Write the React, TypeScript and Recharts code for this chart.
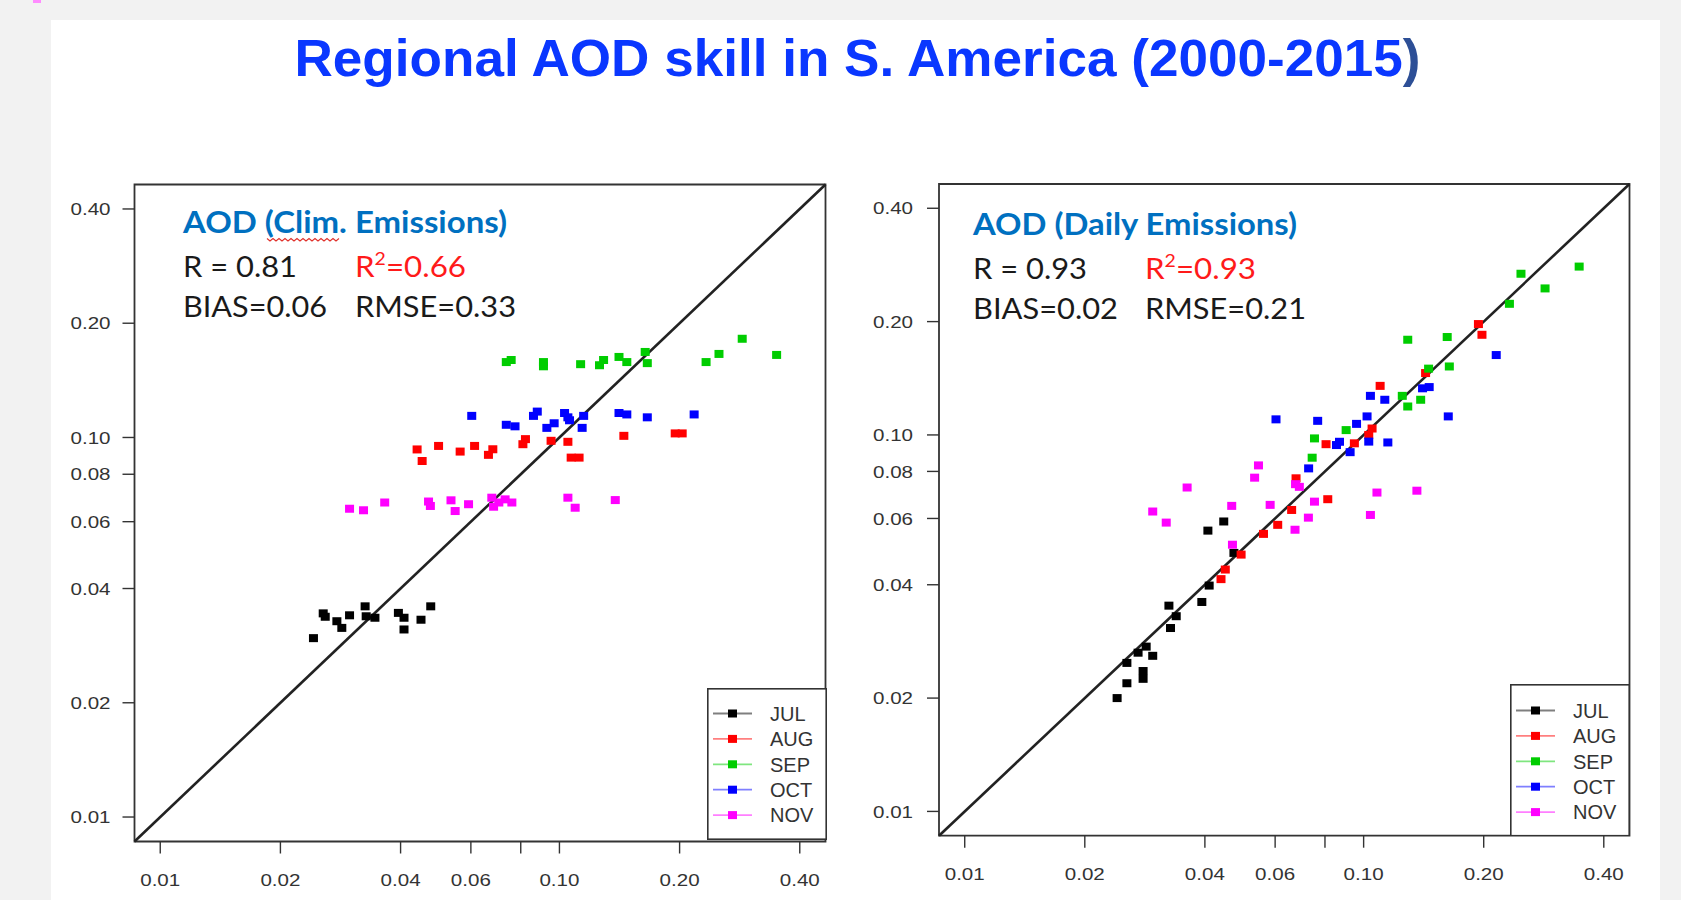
import React from 'react';
import {
  ScatterChart,
  Scatter,
  XAxis,
  YAxis,
  ReferenceLine,
  ReferenceArea,
  Legend,
} from 'recharts';

// month groups and colours (R default palette)
const MONTHS = ['JUL', 'AUG', 'SEP', 'OCT', 'NOV'];
const MONTH_COLORS = ['#000000', '#ff0000', '#00cd00', '#0000ff', '#ff00ff'];

// log axes, same on x and y
const AXIS_TICKS = [0.01, 0.02, 0.04, 0.06, 0.08, 0.1, 0.2, 0.4];
const AXIS_DOMAIN: [number, number] = [0.00862, 0.464];

// panel 1: climatological emissions, [x, y] pairs
const climJul = [
  [0.0242, 0.0296], [0.0256, 0.0344], [0.0259, 0.0337], [0.0277, 0.0328], [0.0285, 0.0315],
  [0.0298, 0.034], [0.0326, 0.0359], [0.0328, 0.0338], [0.0345, 0.0335], [0.0395, 0.0345],
  [0.0408, 0.0335], [0.0408, 0.0312], [0.045, 0.0331], [0.0476, 0.0359],
];
const climAug = [
  [0.044, 0.093], [0.0453, 0.0867], [0.0498, 0.095], [0.0564, 0.0918], [0.0613, 0.095],
  [0.0664, 0.09], [0.0681, 0.0931], [0.081, 0.096], [0.0822, 0.099], [0.0953, 0.098],
  [0.105, 0.0974], [0.107, 0.0885], [0.112, 0.0885], [0.145, 0.101], [0.195, 0.1025], [0.203, 0.1025],
];
const climSep = [
  [0.0736, 0.158], [0.0757, 0.16], [0.0912, 0.158], [0.0912, 0.154], [0.113, 0.156],
  [0.126, 0.155], [0.129, 0.16], [0.141, 0.163], [0.1475, 0.158], [0.164, 0.168],
  [0.166, 0.157], [0.233, 0.158], [0.251, 0.166], [0.287, 0.182], [0.35, 0.165],
];
const climOct = [
  [0.0603, 0.114], [0.0736, 0.108], [0.0774, 0.107], [0.0861, 0.114], [0.088, 0.117],
  [0.093, 0.106], [0.097, 0.109], [0.103, 0.116], [0.105, 0.113], [0.106, 0.111],
  [0.115, 0.114], [0.114, 0.106], [0.141, 0.116], [0.1475, 0.115], [0.166, 0.113], [0.2175, 0.115],
];
const climNov = [
  [0.0298, 0.0649], [0.0323, 0.0643], [0.0365, 0.0674], [0.047, 0.0678], [0.0475, 0.066],
  [0.0535, 0.0683], [0.0548, 0.064], [0.0592, 0.0667], [0.0677, 0.0694], [0.0684, 0.0657],
  [0.0705, 0.0674], [0.0731, 0.0687], [0.076, 0.0674], [0.105, 0.0694], [0.1095, 0.0653], [0.138, 0.0684],
];

// panel 2: daily emissions
const dailyJul = [
  [0.0241, 0.02], [0.0255, 0.0219], [0.0255, 0.0248], [0.028, 0.0225], [0.028, 0.0236],
  [0.0272, 0.0264], [0.0285, 0.0274], [0.0296, 0.0259], [0.0328, 0.0307], [0.0339, 0.033],
  [0.0325, 0.0352], [0.0393, 0.036], [0.041, 0.0398], [0.0473, 0.0486], [0.0407, 0.0557], [0.0446, 0.0589],
];
const dailyAug = [
  [0.0439, 0.0414], [0.045, 0.0439], [0.0493, 0.0481], [0.0561, 0.0546], [0.0609, 0.0577],
  [0.066, 0.0632], [0.0813, 0.0675], [0.0677, 0.0767], [0.0805, 0.0945], [0.0948, 0.095],
  [0.103, 0.1], [0.105, 0.104], [0.11, 0.135], [0.143, 0.146], [0.194, 0.197], [0.198, 0.1845],
];
const dailySep = [
  [0.0743, 0.087], [0.0753, 0.0979], [0.0904, 0.103], [0.125, 0.127], [0.129, 0.119],
  [0.139, 0.124], [0.1455, 0.15], [0.164, 0.152], [0.129, 0.179], [0.162, 0.182],
  [0.232, 0.223], [0.285, 0.245], [0.248, 0.268], [0.347, 0.28],
];
const dailyOct = [
  [0.0603, 0.11], [0.0767, 0.109], [0.0728, 0.0815], [0.087, 0.0959], [0.0855, 0.094],
  [0.0925, 0.09], [0.096, 0.107], [0.102, 0.112], [0.103, 0.096], [0.104, 0.127],
  [0.113, 0.124], [0.115, 0.0955], [0.1405, 0.133], [0.146, 0.134], [0.163, 0.112], [0.215, 0.163],
];
const dailyNov = [
  [0.0296, 0.0626], [0.032, 0.0585], [0.0361, 0.0725], [0.0467, 0.0648], [0.0469, 0.0511],
  [0.0533, 0.077], [0.0545, 0.083], [0.0583, 0.0652], [0.0673, 0.056], [0.0675, 0.074],
  [0.069, 0.0728], [0.0727, 0.0603], [0.0753, 0.0665], [0.104, 0.0613], [0.108, 0.0703], [0.136, 0.0711],
];

const CLIM_SERIES = [climJul, climAug, climSep, climOct, climNov];
const DAILY_SERIES = [dailyJul, dailyAug, dailySep, dailyOct, dailyNov];

const TITLE = 'Regional AOD skill in S. America (2000-2015';

const toPoints = (pairs: number[][]) => pairs.map(([x, y]) => ({ x, y }));

const TICK_FONT = '"Liberation Sans", Arial, Helvetica, sans-serif';
const NOTE_FONT = 'Lato, "Open Sans", sans-serif';

const SquareDot = (props: any) => {
  const { cx, cy, fill } = props;
  if (cx == null || cy == null) return null;
  return <rect x={cx - 4.5} y={cy - 4} width={9} height={8} fill={fill} />;
};

const YTick = (props: any) => {
  const { x, y, payload } = props;
  return (
    <text x={x} y={y} dy="0.36em" textAnchor="end" fontSize={17} fill="#333"
      fontFamily={TICK_FONT} textLength={40} lengthAdjust="spacingAndGlyphs">
      {payload.value.toFixed(2)}
    </text>
  );
};

const XTick = (props: any) => {
  const { x, y, payload } = props;
  // R drops the 0.08 label on x (no room)
  if (Math.abs(payload.value - 0.08) < 1e-9) return <g />;
  return (
    <text x={x} y={y} dy="0.36em" textAnchor="middle" fontSize={17} fill="#333"
      fontFamily={TICK_FONT} textLength={40} lengthAdjust="spacingAndGlyphs">
      {payload.value.toFixed(2)}
    </text>
  );
};

const makeLegend = (w: number, h: number, firstRow: number) => (props: any) => {
  const items = [...(props.payload || [])].sort(
    (a: any, b: any) => MONTHS.indexOf(a.value) - MONTHS.indexOf(b.value)
  );
  return (
    <svg width={w} height={h} style={{ display: 'block' }}>
      <rect x={0.8} y={0.8} width={w - 1.6} height={h - 1.6} fill="#fff" stroke="#333" strokeWidth={1.6} />
      {items.map((entry: any, i: number) => {
        const cy = firstRow + i * 25.4;
        return (
          <g key={entry.value}>
            <line x1={6} x2={45} y1={cy} y2={cy} stroke={entry.color} strokeOpacity={0.5} strokeWidth={1.8} />
            <rect x={21} y={cy - 4} width={9} height={8} fill={entry.color} />
            <text x={63} y={cy} dy="0.36em" fontSize={20} fill="#333" fontFamily={TICK_FONT}>
              {entry.value}
            </text>
          </g>
        );
      })}
    </svg>
  );
};

interface PanelProps {
  series: number[][][];
  left: number;
  width: number;
  margin: { top: number; right: number; bottom: number; left: number };
  yAxisWidth: number;
  tickMarginY: number;
  legendBox: { left: number; top: number; width: number; height: number; firstRow: number };
}

const Panel: React.FC<PanelProps> = ({ series, left, width, margin, yAxisWidth, tickMarginY, legendBox }) => (
  <div style={{ position: 'absolute', left, top: 0 }}>
    <ScatterChart width={width} height={900} margin={margin}>
      <XAxis
        dataKey="x"
        type="number"
        scale="log"
        domain={AXIS_DOMAIN}
        ticks={AXIS_TICKS}
        allowDataOverflow
        axisLine={false}
        tickLine={{ stroke: '#333', strokeWidth: 1.4 }}
        tickSize={12}
        tickMargin={26}
        height={50}
        interval={0}
        tick={<XTick />}
      />
      <YAxis
        dataKey="y"
        type="number"
        scale="log"
        domain={AXIS_DOMAIN}
        ticks={AXIS_TICKS}
        allowDataOverflow
        axisLine={false}
        tickLine={{ stroke: '#333', strokeWidth: 1.4 }}
        tickSize={12}
        tickMargin={tickMarginY}
        width={yAxisWidth}
        interval={0}
        tick={<YTick />}
      />
      <ReferenceArea
        x1={AXIS_DOMAIN[0]}
        x2={AXIS_DOMAIN[1]}
        y1={AXIS_DOMAIN[0]}
        y2={AXIS_DOMAIN[1]}
        fill="none"
        fillOpacity={0}
        stroke="#333"
        strokeWidth={1.8}
        ifOverflow="visible"
      />
      <ReferenceLine
        segment={[
          { x: AXIS_DOMAIN[0], y: AXIS_DOMAIN[0] },
          { x: AXIS_DOMAIN[1], y: AXIS_DOMAIN[1] },
        ]}
        stroke="#222"
        strokeWidth={2.6}
        ifOverflow="visible"
      />
      {series.map((pairs, i) => (
        <Scatter
          key={MONTHS[i]}
          name={MONTHS[i]}
          data={toPoints(pairs)}
          fill={MONTH_COLORS[i]}
          shape={SquareDot}
          isAnimationActive={false}
        />
      ))}
      <Legend
        layout="vertical"
        align="center"
        verticalAlign="middle"
        content={makeLegend(legendBox.width, legendBox.height, legendBox.firstRow)}
        wrapperStyle={{
          left: legendBox.left,
          top: legendBox.top,
          width: legendBox.width,
          height: legendBox.height,
          right: 'auto',
          bottom: 'auto',
        }}
      />
    </ScatterChart>
  </div>
);

const Superscript2 = ({ rest }: { rest: string }) => (
  <>
    R<tspan dy={-12} fontSize={18}>2</tspan>
    <tspan dy={12}>{rest}</tspan>
  </>
);

// spell-check squiggle under "Clim."
const squiggle = Array.from({ length: 25 }, (_, i) => `${267 + i * 3},${i % 2 ? 241 : 238.5}`).join(' ');

const Notes = () => (
  <svg width={1681} height={900} style={{ position: 'absolute', left: 0, top: 0, pointerEvents: 'none' }}>
    <text x={857.5} y={76} textAnchor="middle" fontSize={52} fontWeight="bold" fill="#0a37ff"
      fontFamily={TICK_FONT} textLength={1126} lengthAdjust="spacingAndGlyphs">
      {TITLE}<tspan fill="#2d4f96">)</tspan>
    </text>

    {/* left panel notes */}
    <text x={183} y={233} fontSize={30} fontWeight="bold" fill="#0070c0" fontFamily={NOTE_FONT}
      textLength={324} lengthAdjust="spacingAndGlyphs">AOD (Clim. Emissions)</text>
    <polyline points={squiggle} fill="none" stroke="#e0302a" strokeWidth={1.1} />
    <text x={183} y={277} fontSize={29} fill="#1a1a1a" fontFamily={NOTE_FONT}
      textLength={114} lengthAdjust="spacingAndGlyphs">R = 0.81</text>
    <text x={355} y={277} fontSize={29} fill="#ff1a1a" fontFamily={NOTE_FONT}
      textLength={111} lengthAdjust="spacingAndGlyphs">
      <Superscript2 rest="=0.66" />
    </text>
    <text x={183} y={317} fontSize={29} fill="#1a1a1a" fontFamily={NOTE_FONT}
      textLength={144} lengthAdjust="spacingAndGlyphs">BIAS=0.06</text>
    <text x={355} y={317} fontSize={29} fill="#1a1a1a" fontFamily={NOTE_FONT}
      textLength={161} lengthAdjust="spacingAndGlyphs">RMSE=0.33</text>

    {/* right panel notes */}
    <text x={973} y={235} fontSize={30} fontWeight="bold" fill="#0070c0" fontFamily={NOTE_FONT}
      textLength={324} lengthAdjust="spacingAndGlyphs">AOD (Daily Emissions)</text>
    <text x={973} y={279} fontSize={29} fill="#1a1a1a" fontFamily={NOTE_FONT}
      textLength={114} lengthAdjust="spacingAndGlyphs">R = 0.93</text>
    <text x={1145} y={279} fontSize={29} fill="#ff1a1a" fontFamily={NOTE_FONT}
      textLength={111} lengthAdjust="spacingAndGlyphs">
      <Superscript2 rest="=0.93" />
    </text>
    <text x={973} y={319} fontSize={29} fill="#1a1a1a" fontFamily={NOTE_FONT}
      textLength={145} lengthAdjust="spacingAndGlyphs">BIAS=0.02</text>
    <text x={1145} y={319} fontSize={29} fill="#1a1a1a" fontFamily={NOTE_FONT}
      textLength={161} lengthAdjust="spacingAndGlyphs">RMSE=0.21</text>
  </svg>
);

export default function App() {
  return (
    <div style={{ position: 'absolute', left: 0, top: 0, width: 1681, height: 900, background: '#f2f2f2', overflow: 'hidden' }}>
      <div style={{ position: 'absolute', left: 33, top: 0, width: 8, height: 3, background: '#ff8cff' }} />
      <div style={{ position: 'absolute', left: 51, top: 20, width: 1609, height: 880, background: '#ffffff' }} />
      <Panel
        series={CLIM_SERIES}
        left={0}
        width={860}
        margin={{ top: 184.5, right: 34.5, bottom: 8.5, left: 54.5 }}
        yAxisWidth={80}
        tickMarginY={12}
        legendBox={{ left: 706.5, top: 688, width: 120, height: 152, firstRow: 25.5 }}
      />
      <Panel
        series={DAILY_SERIES}
        left={860}
        width={821}
        margin={{ top: 184, right: 51.5, bottom: 14.3, left: 19 }}
        yAxisWidth={60}
        tickMarginY={14}
        legendBox={{ left: 649.5, top: 683.5, width: 120, height: 152.5, firstRow: 26.5 }}
      />
      <Notes />
    </div>
  );
}
